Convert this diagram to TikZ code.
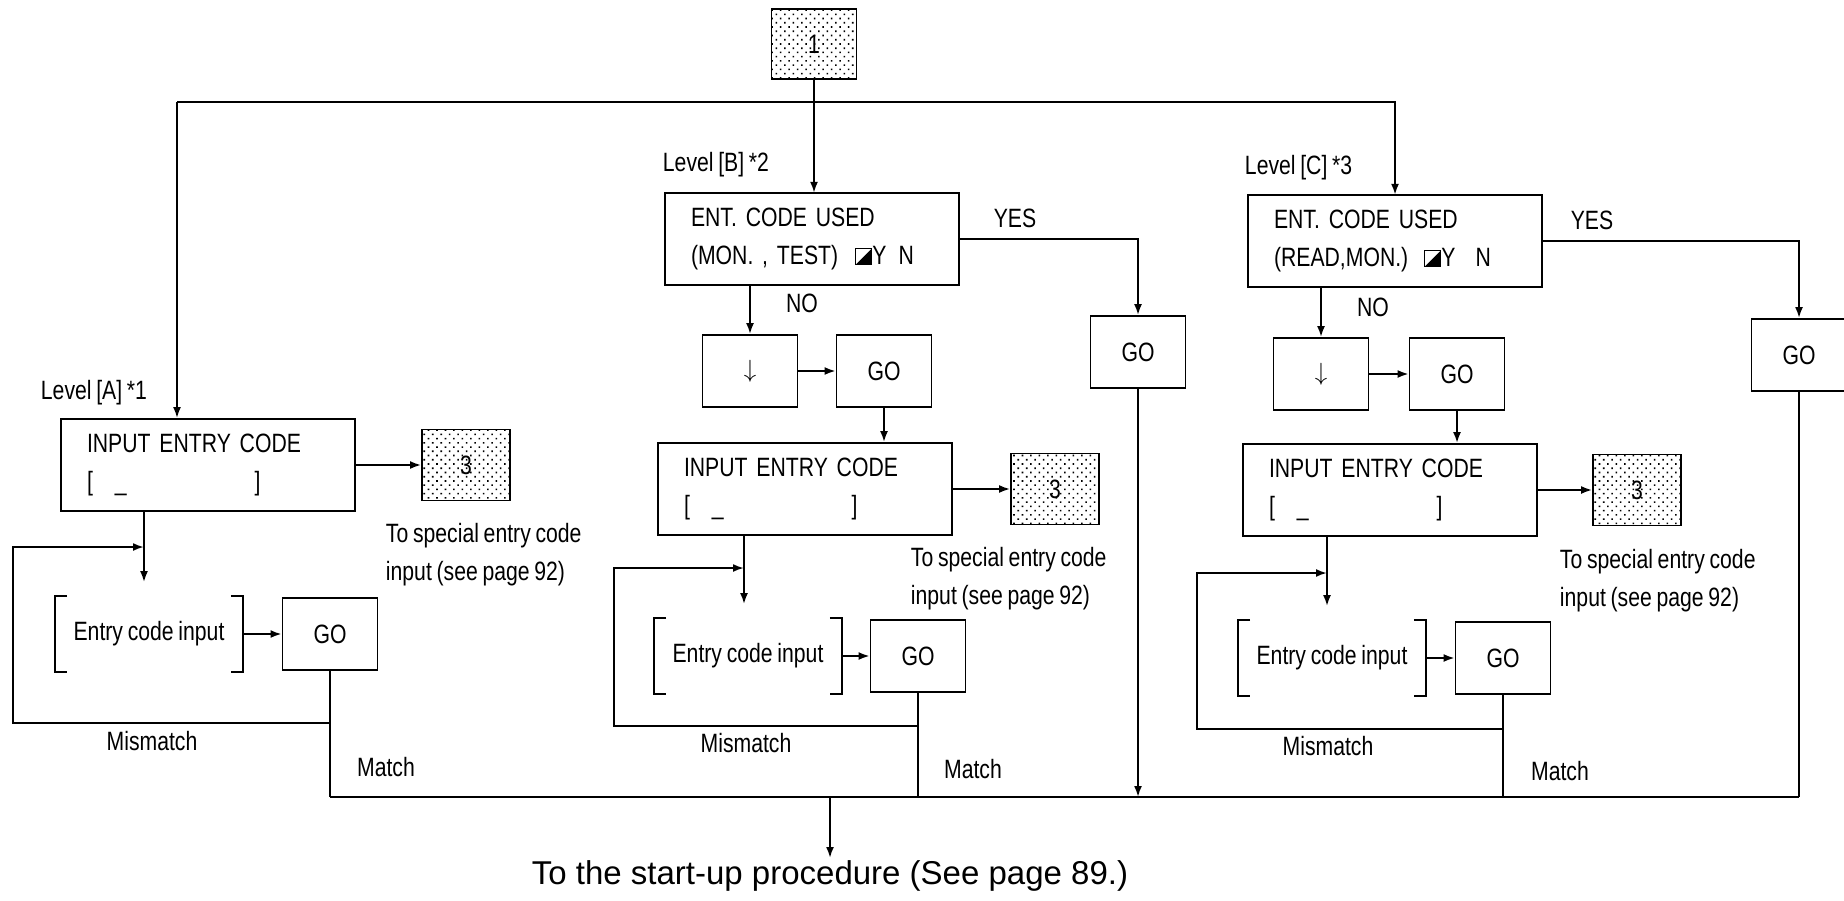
\documentclass[tikz,border=0pt]{standalone}
\usepackage{fontspec}
\setmainfont[FakeStretch=0.8, WordSpace=0.8]{Liberation Sans}
\newfontfamily\widesf{Liberation Sans}
\usetikzlibrary{arrows.meta, patterns.meta}

\newcommand{\halfsq}{\tikz[x=1pt,y=1pt,line width=1.2pt,baseline=0pt]{%
  \draw (0,0) rectangle (16,16); \fill (0,0) -- (16,16) -- (16,0) -- cycle;}}
\newcommand{\bracketpair}[1]{%
  \draw ([xshift=12pt]#1.north west) -| (#1.south west) -- ++(12pt,0pt);
  \draw ([xshift=-12pt]#1.north east) -| (#1.south east) -- ++(-12pt,0pt);}

\begin{document}
\begin{tikzpicture}[
  x=1pt, y=-1pt,
  font=\fontsize{26.5}{38}\selectfont,
  line width=1.9pt,
  panel/.style={
    draw,
    align=left,
    text width=242pt,
    inner xsep=26pt,
    inner ysep=0pt,
    minimum height=92pt
  },
  smallbox/.style={
    draw,
    minimum width=95pt,
    minimum height=72pt,
    inner sep=0pt
  },
  dotbox/.style={
    draw,
    pattern={Dots[distance=6pt, angle=45, radius=1.1pt]},
    minimum width=88pt,
    minimum height=71pt,
    inner sep=0pt
  },
  keybox/.style={
    minimum width=186pt,
    minimum height=74pt,
    inner sep=0pt
  },
  tag/.style={inner sep=0pt},
  note/.style={inner sep=0pt, anchor=west, align=left},
  arr/.style={-{Latex[length=11pt,width=8pt]}},
  drop/.style={arr, shorten >=14pt}
]

\useasboundingbox (0,0) rectangle (1844,901);

\node[dotbox, minimum width=85pt, minimum height=70pt] (one) at (814,44) {1};
\coordinate (topL) at (177,102);
\coordinate (botR) at (1799,797);
\coordinate (outPt) at (830,797);

\node[tag, anchor=west] (lvlA) at (40,393) {Level [A] *1};
\node[tag, anchor=west] (lvlB) at (662,165) {Level [B] *2};
\node[tag, anchor=west] (lvlC) at (1244,168) {Level [C] *3};

\node[panel] (inA) at (208,465)
  {INPUT ENTRY CODE\\{[}\hspace{22pt}\_\hspace{128pt}{]}};
\node[dotbox] (threeA) at (466,465) {3};
\node[note] (noteA) at (385,555) {To special entry code\\input (see page 92)};
\coordinate (jA) at (144,547);
\coordinate (loopA) at (13,723);
\node[keybox] (keyA) at (149,634) {Entry code input};
\bracketpair{keyA}
\node[smallbox] (goA) at (330,634) {GO};
\node[tag] (missA) at (152,741) {Mismatch};
\node[tag] (matchA) at (386,767) {Match};

\node[panel] (usedB) at (812,239)
  {ENT. CODE USED\\(MON. , TEST)\hspace{17pt}\halfsq Y\hspace{12pt}N};
\node[tag] (yesLabB) at (1015,218) {YES};
\node[tag] (noLabB) at (802,303) {NO};
\node[smallbox] (arrowB) at (750,371) {$\downarrow$};
\node[smallbox] (nextB) at (884,371) {GO};
\node[smallbox] (yesB) at (1138,352) {GO};
\node[panel] (inB) at (805,489)
  {INPUT ENTRY CODE\\{[}\hspace{22pt}\_\hspace{128pt}{]}};
\node[dotbox] (threeB) at (1055,489) {3};
\node[note] (noteB) at (910,579) {To special entry code\\input (see page 92)};
\coordinate (jB) at (744,568);
\coordinate (loopB) at (614,726);
\node[keybox] (keyB) at (748,656) {Entry code input};
\bracketpair{keyB}
\node[smallbox] (goB) at (918,656) {GO};
\node[tag] (missB) at (746,743) {Mismatch};
\node[tag] (matchB) at (973,769) {Match};

\node[panel] (usedC) at (1395,241)
  {ENT. CODE USED\\(READ,MON.)\hspace{16pt}\halfsq Y\hspace{20pt}N};
\node[tag] (yesLabC) at (1592,220) {YES};
\node[tag] (noLabC) at (1373,307) {NO};
\node[smallbox] (arrowC) at (1321,374) {$\downarrow$};
\node[smallbox] (nextC) at (1457,374) {GO};
\node[smallbox] (yesC) at (1799,355) {GO};
\node[panel] (inC) at (1390,490)
  {INPUT ENTRY CODE\\{[}\hspace{22pt}\_\hspace{128pt}{]}};
\node[dotbox] (threeC) at (1637,490) {3};
\node[note] (noteC) at (1559,581) {To special entry code\\input (see page 92)};
\coordinate (jC) at (1327,573);
\coordinate (loopC) at (1197,729);
\node[keybox] (keyC) at (1332,658) {Entry code input};
\bracketpair{keyC}
\node[smallbox] (goC) at (1503,658) {GO};
\node[tag] (missC) at (1328,746) {Mismatch};
\node[tag] (matchC) at (1560,771) {Match};

\node[tag, anchor=north, inner sep=2pt, font=\widesf\fontsize{33}{40}\selectfont]
  (finish) at (830,858) {To the start-up procedure (See page 89.)};

\draw[arr] (one.south) -- (one.south |- usedB.north);
\draw[arr] (topL) -| (usedC.north);
\draw[arr] (topL) -- (topL |- inA.north);

\draw[arr] (inA.east) -- (threeA.west);
\draw[drop] (inA.south -| jA) -- (keyA.north -| jA);
\draw[arr] (keyA.east) -- (goA.west);
\draw[arr] (goA.south |- loopA) -- (loopA) |- (jA);
\draw (goA.south) -- (goA.south |- botR);

\draw[arr] (usedB.east) -| (yesB.north);
\draw[arr] (arrowB.north |- usedB.south) -- (arrowB.north);
\draw[arr] (arrowB.east) -- (nextB.west);
\draw[arr] (nextB.south) -- (nextB.south |- inB.north);
\draw[arr] (inB.east) -- (threeB.west);
\draw[drop] (inB.south -| jB) -- (keyB.north -| jB);
\draw[arr] (keyB.east) -- (goB.west);
\draw[arr] (goB.south |- loopB) -- (loopB) |- (jB);
\draw (goB.south) -- (goB.south |- botR);
\draw[arr] (yesB.south) -- (yesB.south |- botR);

\draw[arr] (usedC.east) -| (yesC.north);
\draw[arr] (arrowC.north |- usedC.south) -- (arrowC.north);
\draw[arr] (arrowC.east) -- (nextC.west);
\draw[arr] (nextC.south) -- (nextC.south |- inC.north);
\draw[arr] (inC.east) -- (threeC.west);
\draw[drop] (inC.south -| jC) -- (keyC.north -| jC);
\draw[arr] (keyC.east) -- (goC.west);
\draw[arr] (goC.south |- loopC) -- (loopC) |- (jC);
\draw (goC.south) -- (goC.south |- botR);
\draw (yesC.south) -- (botR);

\draw (goA.south |- botR) -- (botR);
\draw[arr] (outPt) -- (finish.north);

\end{tikzpicture}
\end{document}
